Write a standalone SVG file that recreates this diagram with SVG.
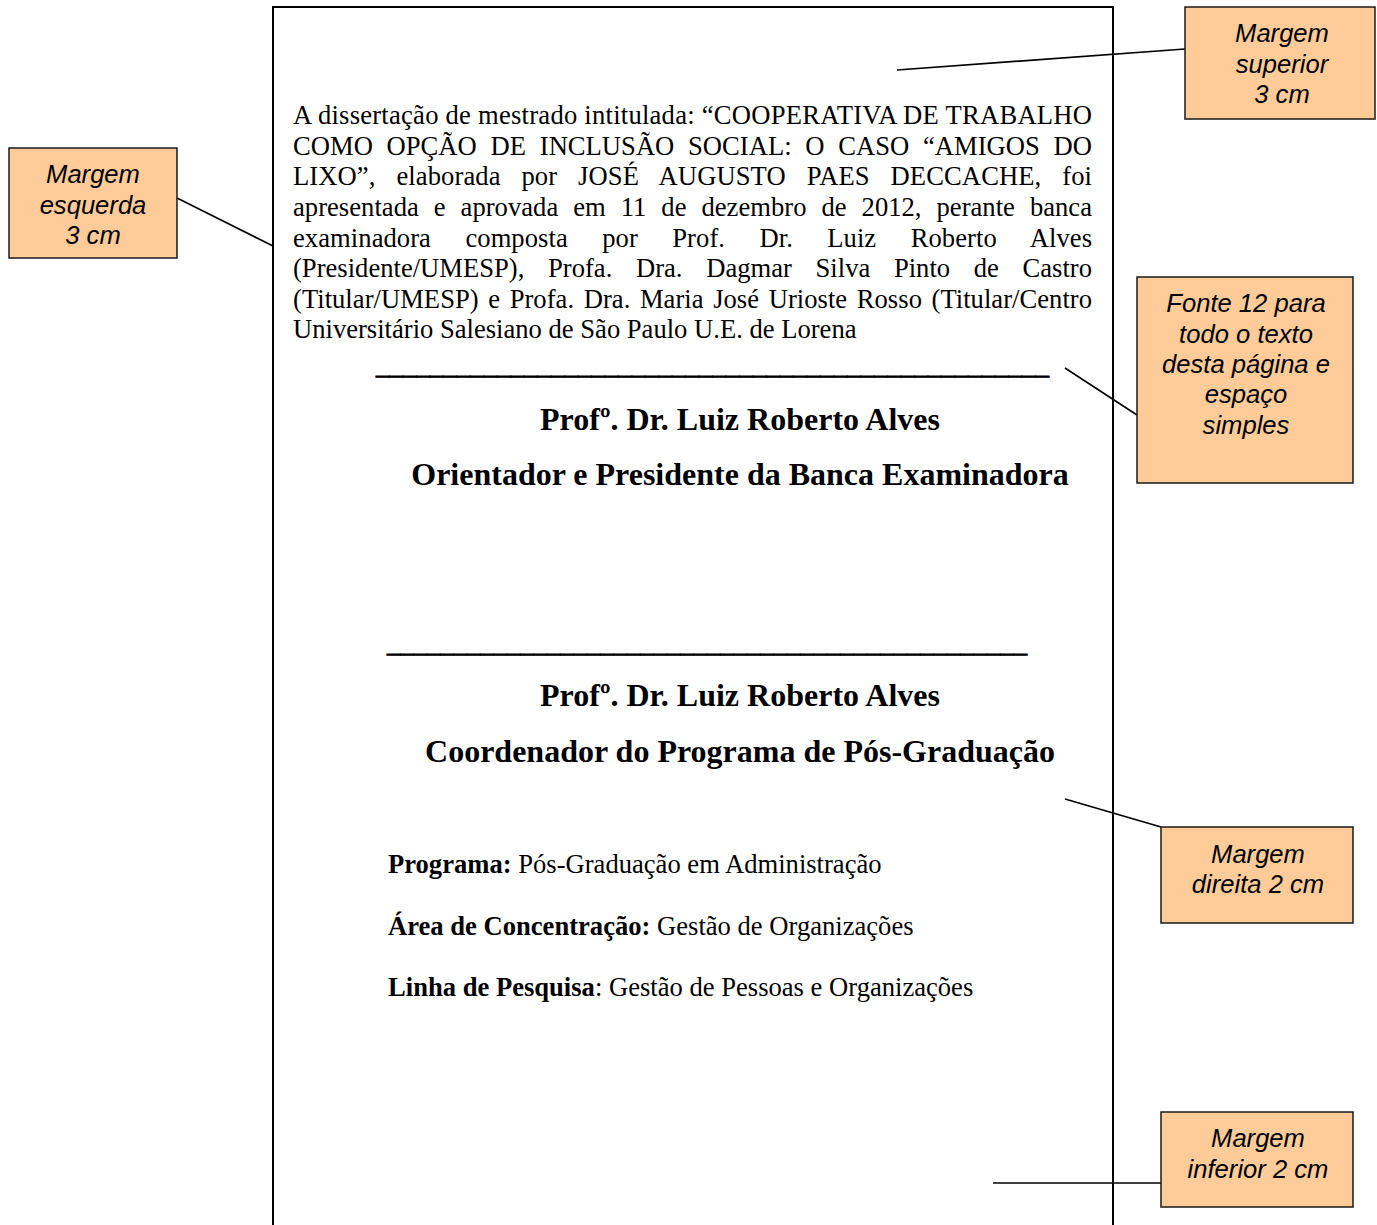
<svg xmlns="http://www.w3.org/2000/svg" width="1377" height="1225" viewBox="0 0 1377 1225">
  <style>
    .page { fill: #ffffff; stroke: #000000; stroke-width: 2; }
    .body { font-family: "Liberation Serif", "Times New Roman", serif; font-size: 26.6px; fill: #000000; }
    .rule { font-family: "Liberation Serif", "Times New Roman", serif; font-size: 26.6px; fill: #000000; stroke: #000000; stroke-width: 0.9; }
    .head { font-family: "Liberation Serif", "Times New Roman", serif; font-size: 32px; font-weight: bold; fill: #000000; text-anchor: middle; }
    .b { font-weight: bold; }
    .note rect { fill: #FFCC99; stroke: #1a1a1a; stroke-width: 1.5; }
    .note text { font-family: "Liberation Sans", Arial, sans-serif; font-size: 25.6px; font-style: italic; fill: #000000; text-anchor: middle; }
    .conn line { stroke: #000000; stroke-width: 1.6; }
  </style>
  <rect width="1377" height="1225" fill="#ffffff"/>

  <!-- page sheet (bottom edge runs off the canvas) -->
  <g id="page">
    <rect class="page" x="273" y="7" width="840" height="1240"/>

    <!-- justified paragraph: word-spacing widens the gaps, textLength trims the rest -->
    <g id="approval-text" class="body">
      <text x="293" y="124" textLength="799" lengthAdjust="spacing">A dissertação de mestrado intitulada: “COOPERATIVA DE TRABALHO</text>
      <text x="293" y="155" word-spacing="7.1" textLength="799" lengthAdjust="spacing">COMO OPÇÃO DE INCLUSÃO SOCIAL: O CASO “AMIGOS DO</text>
      <text x="293" y="185" word-spacing="14.2" textLength="799" lengthAdjust="spacing">LIXO”, elaborada por JOSÉ AUGUSTO PAES DECCACHE, foi</text>
      <text x="293" y="216" word-spacing="8.3" textLength="799" lengthAdjust="spacing">apresentada e aprovada em 11 de dezembro de 2012, perante banca</text>
      <text x="293" y="247" word-spacing="27.7" textLength="799" lengthAdjust="spacing">examinadora composta por Prof. Dr. Luiz Roberto Alves</text>
      <text x="293" y="277" word-spacing="17" textLength="799" lengthAdjust="spacing">(Presidente/UMESP), Profa. Dra. Dagmar Silva Pinto de Castro</text>
      <text x="293" y="308" word-spacing="2.9" textLength="799" lengthAdjust="spacing">(Titular/UMESP) e Profa. Dra. Maria José Urioste Rosso (Titular/Centro</text>
      <text x="293" y="338">Universitário Salesiano de São Paulo U.E. de Lorena</text>
    </g>

    <g id="signature-1">
      <text class="rule" x="376" y="374" textLength="673" lengthAdjust="spacingAndGlyphs">__________________________________________________</text>
      <text class="head" x="740" y="430">Profº. Dr. Luiz Roberto Alves</text>
      <text class="head" x="740" y="485">Orientador e Presidente da Banca Examinadora</text>
    </g>

    <g id="signature-2">
      <text class="rule" x="387" y="652" textLength="640" lengthAdjust="spacingAndGlyphs">________________________________________________</text>
      <text class="head" x="740" y="706">Profº. Dr. Luiz Roberto Alves</text>
      <text class="head" x="740" y="762">Coordenador do Programa de Pós-Graduação</text>
    </g>

    <g id="program-info" class="body">
      <text x="388" y="873"><tspan class="b">Programa:</tspan> Pós-Graduação em Administração</text>
      <text x="388" y="935"><tspan class="b">Área de Concentração:</tspan> Gestão de Organizações</text>
      <text x="388" y="996"><tspan class="b">Linha de Pesquisa</tspan>: Gestão de Pessoas e Organizações</text>
    </g>
  </g>

  <!-- leader lines from the callouts -->
  <g id="connectors" class="conn">
    <line x1="177" y1="198" x2="273" y2="246"/>
    <line x1="897" y1="70" x2="1185" y2="49"/>
    <line x1="1065" y1="368" x2="1137" y2="415"/>
    <line x1="1065" y1="799" x2="1161" y2="827"/>
    <line x1="993" y1="1183" x2="1161" y2="1183"/>
  </g>

  <!-- callout boxes -->
  <g id="note-left" class="note">
    <rect x="9" y="148" width="168" height="110"/>
    <text x="93" y="183">Margem</text>
    <text x="93" y="214">esquerda</text>
    <text x="93" y="244">3 cm</text>
  </g>

  <g id="note-top" class="note">
    <rect x="1185" y="7" width="190" height="112"/>
    <text x="1282" y="42">Margem</text>
    <text x="1282" y="73">superior</text>
    <text x="1282" y="103">3 cm</text>
  </g>

  <g id="note-font" class="note">
    <rect x="1137" y="277" width="216" height="206"/>
    <text x="1246" y="312">Fonte 12 para</text>
    <text x="1246" y="343">todo o texto</text>
    <text x="1246" y="373">desta página e</text>
    <text x="1246" y="403">espaço</text>
    <text x="1246" y="434">simples</text>
  </g>

  <g id="note-right" class="note">
    <rect x="1161" y="827" width="192" height="96"/>
    <text x="1258" y="863">Margem</text>
    <text x="1258" y="893">direita 2 cm</text>
  </g>

  <g id="note-bottom" class="note">
    <rect x="1161" y="1112" width="192" height="95"/>
    <text x="1258" y="1147">Margem</text>
    <text x="1258" y="1178">inferior 2 cm</text>
  </g>
</svg>
